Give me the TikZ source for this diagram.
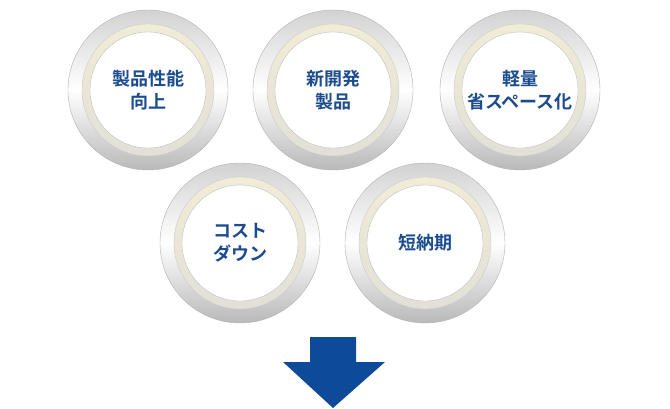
\documentclass[tikz,border=0pt]{standalone}
\usepackage{fontspec}
\newfontfamily\jpfont{Noto Sans CJK JP}[BoldFont={Noto Sans CJK JP Bold}]
\usetikzlibrary{positioning}
\definecolor{textblue}{HTML}{1B4C8E}
\definecolor{arrowblue}{HTML}{0D4A98}
\definecolor{cream}{HTML}{F1ECD6}
\tikzset{
  ring/.style={circle,minimum size=160pt,inner sep=0pt,
    top color=gray!35,bottom color=gray!55,middle color=white,draw=gray!60},
  band/.style={circle,minimum size=132pt,inner sep=0pt,
    top color=cream,bottom color=cream!70!gray!60,draw=gray!40},
  disc/.style={circle,minimum size=116pt,inner sep=0pt,fill=white,draw=gray!50,
    font=\jpfont\bfseries\fontsize{18}{23}\selectfont,text=textblue,align=center}
}
\begin{document}
\begin{tikzpicture}[x=1pt,y=-1pt]
  \useasboundingbox (0,0) rectangle (670,408);
  % rings
  \foreach \name/\cx/\cy/\txt in {r1/148/90/{製品性能\\向上},r2/333/90/{新開発\\製品},
      r3/520/90/{軽量\\省スペース化},r4/240/243/{コスト\\ダウン},r5/425/243/{短納期}}{
    \node[ring] at (\cx,\cy) {};
    \node[band] at (\cx,\cy) {};
    \node[disc] (\name) at (\cx,\cy) {\txt};
  }
  % arrow
  \fill[arrowblue] (310,337) -- (356,337) -- (356,362) -- (385,362) -- (333,408)
    -- (283,362) -- (310,362) -- cycle;
\end{tikzpicture}
\end{document}
